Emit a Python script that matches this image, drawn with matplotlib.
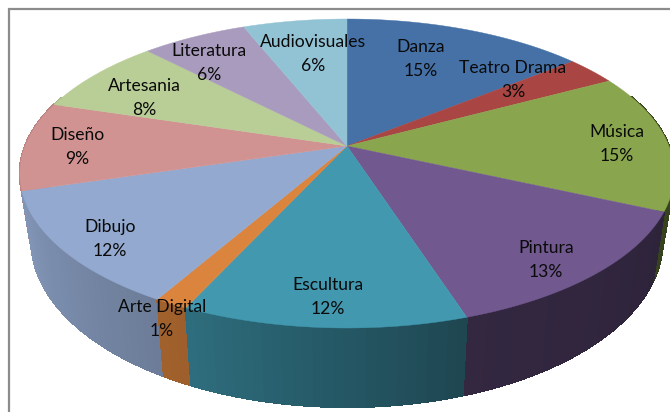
import numpy as np
import matplotlib
matplotlib.use("Agg")
import matplotlib.pyplot as plt

categories = ["Danza", "Teatro Drama", "Música", "Pintura", "Escultura", "Arte Digital",
              "Dibujo", "Diseño", "Artesania", "Literatura", "Audiovisuales"]
values = [14.2, 3.0, 14.5, 13.3, 11.9, 1.4, 12.1, 9.3, 8.0, 6.2, 6.1]
percent_labels = ["15%", "3%", "15%", "13%", "12%", "1%", "12%", "9%", "8%", "6%", "6%"]
colors = ["#4571a7", "#a94543", "#89a54e", "#71588f", "#4198af", "#db843d",
          "#93a9cf", "#d19392", "#b9cd96", "#a99bbd", "#92c3d5"]

# Layout (pixel space of the figure)
label_centres = [(421, 58), (513, 79), (617, 143), (546, 259), (328, 296), (162, 318),
                 (110, 238), (77, 146), (144, 97), (209, 62), (313, 53)]
CX, CY, A, B, K = 347.0, 146.0, 322.0, 149.6, 0.178
DEPTH, BOTTOM_SCALE = 65.0, 0.965


def project(deg):
    t = np.radians(deg)
    u, v = np.sin(t), np.cos(t)
    d = 1 + K * v
    return CX + A * u / d, CY - B * v / d


def project_bottom(deg):
    x, y = project(deg)
    v = np.cos(np.radians(deg))
    return CX + (x - CX) * BOTTOM_SCALE, y + DEPTH / (1 + K * v)


def shade(hex_colour, deg):
    f = np.interp(deg, [110, 160, 205, 250], [0.40, 0.45, 0.72, 0.88])
    return tuple(np.array(matplotlib.colors.to_rgb(hex_colour)) * f)


fig = plt.figure(figsize=(6.7, 4.12), dpi=100, facecolor="white")
ax = fig.add_axes([0, 0, 1, 1])
ax.set_xlim(0, 670)
ax.set_ylim(412, 0)
ax.axis("off")

# Frame: only left and top visible
ax.plot([9, 9, 670], [412, 8.5, 8.5], color="#8c8c8c", lw=1.6, zorder=1, solid_joinstyle="miter")

edges = np.concatenate([[0], np.cumsum(values)]) / np.sum(values) * 360

# Sides
strips = []
for i, c in enumerate(colors):
    n = max(int((edges[i + 1] - edges[i]) / 1.5), 2)
    a = np.linspace(edges[i], edges[i + 1], n + 1)
    for a0, a1 in zip(a[:-1], a[1:]):
        strips.append((a0, a1, c))
strips.sort(key=lambda s: -np.cos(np.radians((s[0] + s[1]) / 2)))
for a0, a1, c in strips:
    mid = (a0 + a1) / 2
    if np.cos(np.radians(mid)) > 0.35:
        continue
    x0, y0 = project(a0)
    x1, y1 = project(a1)
    x2, y2 = project_bottom(a1)
    x3, y3 = project_bottom(a0)
    col = shade(c, mid)
    ax.fill([x0, x1, x2, x3], [y0, y1, y2, y3], facecolor=col, edgecolor=col, lw=0.8,
            antialiased=False, zorder=2)

# Top faces
for i, c in enumerate(colors):
    a = np.linspace(edges[i], edges[i + 1], 80)
    xs, ys = project(a)
    ax.fill(np.r_[CX, xs], np.r_[CY, ys], color=c, lw=0.3, zorder=3)

# Labels
for name, pct, (x, y) in zip(categories, percent_labels, label_centres):
    ax.text(x, y - 11, name, ha="center", va="center", fontsize=12.6,
            family="Lato", color="#0a0a0a", zorder=5)
    ax.text(x, y + 13, pct, ha="center", va="center", fontsize=12.6,
            family="Lato", color="#0a0a0a", zorder=5)

fig.savefig("out.png", dpi=100, facecolor="white")
